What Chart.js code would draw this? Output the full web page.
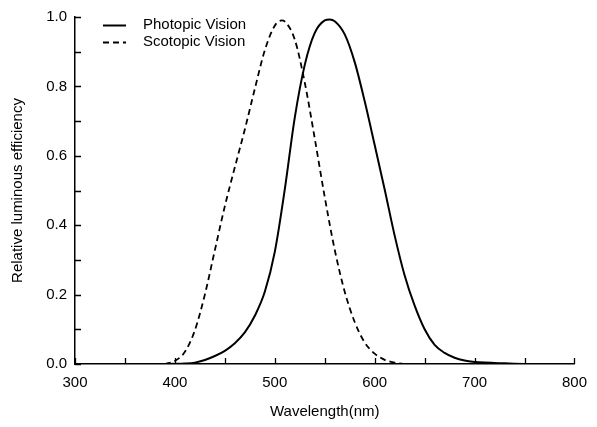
<!DOCTYPE html>
<html>
<head>
<meta charset="utf-8">
<script src="https://cdn.jsdelivr.net/npm/chart.js@4.4.1/dist/chart.umd.min.js"></script>
<style>
  html, body { margin: 0; padding: 0; background: #fff; }
  canvas { display: block; }
</style>
</head>
<body>
<canvas id="c" width="597" height="427"></canvas>
<script>
// ---- Data ----
const photopicWavelengths = [380, 390, 400, 410, 420, 430, 440, 450, 460, 470, 480, 490, 500, 510, 520, 530, 540, 550, 555, 560, 570, 580, 590, 600, 610, 620, 630, 640, 650, 660, 670, 680, 690, 700, 710, 720, 730, 740, 750];
const photopicValues = [0.0000, 0.0001, 0.0004, 0.0012, 0.0040, 0.0116, 0.023, 0.038, 0.060, 0.091, 0.139, 0.208, 0.323, 0.503, 0.710, 0.862, 0.954, 0.990, 0.993, 0.988, 0.950, 0.870, 0.757, 0.631, 0.503, 0.370, 0.255, 0.168, 0.100, 0.055, 0.032, 0.018, 0.010, 0.006, 0.004, 0.003, 0.002, 0.001, 0.000];

const scotopicWavelengths = [390, 400, 410, 420, 430, 440, 450, 460, 470, 480, 490, 500, 507, 510, 520, 530, 540, 550, 560, 570, 580, 590, 600, 610, 620, 630];
const scotopicValues = [0.000, 0.009, 0.035, 0.097, 0.200, 0.328, 0.455, 0.567, 0.676, 0.793, 0.904, 0.975, 0.990, 0.987, 0.935, 0.811, 0.650, 0.481, 0.329, 0.208, 0.121, 0.062, 0.030, 0.012, 0.004, 0.000];

const seriesLabels = ["Photopic Vision", "Scotopic Vision"];
const xTickValues = [300, 400, 500, 600, 700, 800];
const xMinorTicks = [300, 350, 400, 450, 500, 550, 600, 650, 700, 750, 800];
const yTickValues = [0.0, 0.2, 0.4, 0.6, 0.8, 1.0];
const yMinorTicks = [0.0, 0.1, 0.2, 0.3, 0.4, 0.5, 0.6, 0.7, 0.8, 0.9, 1.0];
const xTitle = "Wavelength(nm)";
const yTitle = "Relative luminous efficiency";

const FONT = "'Liberation Sans', Arial, Helvetica, sans-serif";

const toPoints = (xs, ys) => xs.map((x, i) => ({ x: x, y: ys[i] }));

// Inward tick marks + inset legend
const decorPlugin = {
  id: 'decor',
  afterDraw(chart) {
    const ctx = chart.ctx;
    const xs = chart.scales.x, ys = chart.scales.y;
    const area = chart.chartArea;
    ctx.save();
    ctx.strokeStyle = '#000';
    ctx.lineWidth = 1.3;
    ctx.beginPath();
    xMinorTicks.forEach(v => {
      const px = Math.round(xs.getPixelForValue(v)) + 0.5;
      ctx.moveTo(px, area.bottom);
      ctx.lineTo(px, area.bottom - 6);
    });
    yMinorTicks.forEach(v => {
      const py = Math.round(ys.getPixelForValue(v)) + 0.5;
      ctx.moveTo(area.left, py);
      ctx.lineTo(area.left + 6, py);
    });
    ctx.stroke();

    // legend
    const ds = chart.data.datasets;
    const lx0 = 103, lx1 = 126, tx = 143;
    const rows = [25, 42];
    ctx.font = '15px ' + FONT;
    ctx.textBaseline = 'middle';
    ctx.textAlign = 'left';
    ctx.fillStyle = '#000';
    ds.forEach((d, i) => {
      ctx.beginPath();
      ctx.lineWidth = d.borderWidth;
      ctx.setLineDash(d.borderDash || []);
      ctx.moveTo(lx0, rows[i] + 0.5);
      ctx.lineTo(lx1, rows[i] + 0.5);
      ctx.stroke();
      ctx.setLineDash([]);
      ctx.fillText(d.label, tx, rows[i]);
    });
    ctx.restore();
  }
};

new Chart(document.getElementById('c'), {
  type: 'line',
  data: {
    datasets: [
      {
        label: seriesLabels[0],
        data: toPoints(photopicWavelengths, photopicValues),
        borderColor: '#000',
        borderWidth: 2,
        pointRadius: 0,
        fill: false,
        cubicInterpolationMode: 'monotone'
      },
      {
        label: seriesLabels[1],
        data: toPoints(scotopicWavelengths, scotopicValues),
        borderColor: '#000',
        borderWidth: 1.8,
        borderDash: [6, 4],
        pointRadius: 0,
        fill: false,
        cubicInterpolationMode: 'monotone'
      }
    ]
  },
  options: {
    responsive: false,
    devicePixelRatio: 1,
    animation: false,
    events: [],
    layout: { padding: { left: 0, right: 20, top: 15, bottom: 0 } },
    plugins: {
      legend: { display: false },
      tooltip: { enabled: false }
    },
    scales: {
      x: {
        type: 'linear',
        min: 300,
        max: 800,
        afterBuildTicks: (scale) => { scale.ticks = xTickValues.map(v => ({ value: v })); },
        afterFit: (scale) => { scale.height = 63; },
        grid: { drawOnChartArea: false, drawTicks: false },
        border: { display: true, color: '#000', width: 1.5 },
        ticks: {
          color: '#000',
          padding: 10,
          maxRotation: 0,
          font: { family: FONT, size: 15 },
          callback: (v) => String(v)
        },
        title: {
          display: true,
          text: xTitle,
          color: '#000',
          font: { family: FONT, size: 15 },
          padding: { top: 0, bottom: 6 }
        }
      },
      y: {
        type: 'linear',
        min: 0,
        max: 1,
        afterBuildTicks: (scale) => { scale.ticks = yTickValues.map(v => ({ value: v })); },
        afterFit: (scale) => { scale.width = 75; },
        grid: { drawOnChartArea: false, drawTicks: false },
        border: { display: true, color: '#000', width: 1.5 },
        ticks: {
          color: '#000',
          padding: 8,
          font: { family: FONT, size: 15 },
          callback: (v) => Number(v).toFixed(1)
        },
        title: {
          display: true,
          text: yTitle,
          color: '#000',
          font: { family: FONT, size: 15 },
          padding: { top: 9, bottom: 0 }
        }
      }
    }
  },
  plugins: [decorPlugin]
});
</script>
</body>
</html>
